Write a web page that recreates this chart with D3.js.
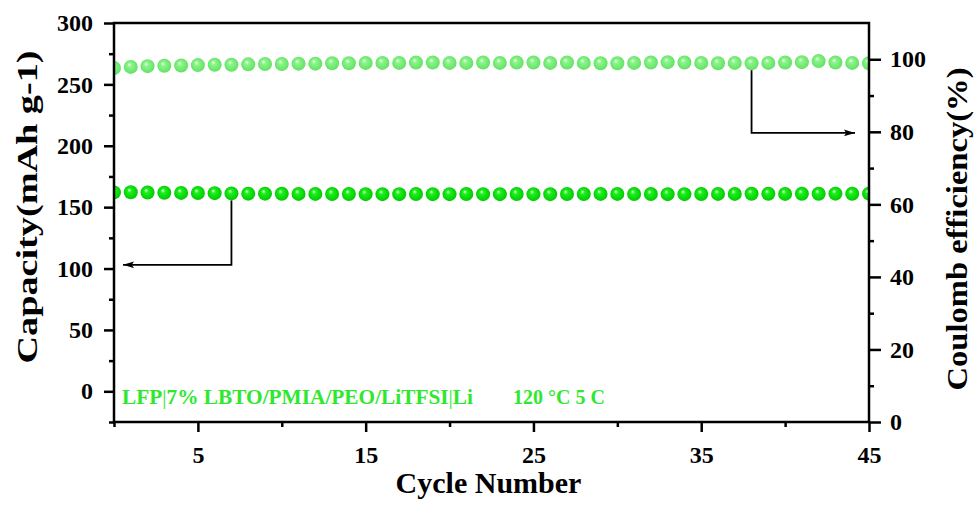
<!DOCTYPE html>
<html>
<head>
<meta charset="utf-8">
<script src="https://cdn.jsdelivr.net/npm/d3@7/dist/d3.min.js"></script>
<style>
  html, body { margin: 0; padding: 0; background: #fff; }
  svg { display: block; }
  text { font-family: "Liberation Serif", "Times New Roman", serif; font-weight: bold; }
</style>
</head>
<body>
<svg id="chart" width="974" height="505"></svg>
<script>
// Cycle numbers
const cycles = d3.range(0, 46);

// Discharge capacity (mAh g-1) per cycle
const capacity = [
  162.0, 162.1, 161.9, 161.7, 161.6, 161.5, 161.4, 161.2, 161.0, 161.0,
  160.9, 160.8, 160.8, 160.7, 160.7, 160.6, 160.6, 160.6, 160.7, 160.6,
  160.6, 160.7, 160.6, 160.6, 160.7, 160.6, 160.6, 160.7, 160.7, 160.8,
  160.8, 160.7, 160.7, 160.6, 160.6, 160.7, 160.8, 160.8, 160.9, 160.9,
  160.8, 160.9, 160.9, 161.0, 160.9, 161.0
];

// Coulombic efficiency (%) per cycle
const efficiency = [
  97.6, 97.9, 98.1, 98.2, 98.3, 98.4, 98.5, 98.5, 98.6, 98.7,
  98.7, 98.8, 98.8, 98.9, 98.9, 99.0, 99.0, 99.0, 99.1, 99.1,
  99.0, 99.0, 99.1, 99.0, 99.1, 99.1, 99.0, 99.1, 99.0, 98.9,
  98.9, 99.0, 99.1, 99.2, 99.1, 99.0, 98.9, 99.0, 98.9, 99.0,
  99.1, 99.2, 99.5, 99.1, 99.0, 98.9
];

// Axis ticks
const xMajor = [5, 15, 25, 35, 45];
const xMinor = [0, 10, 20, 30, 40];
const yLeftMajor = [0, 50, 100, 150, 200, 250, 300];
const yLeftMinor = [-25, 25, 75, 125, 175, 225, 275];
const yRightMajor = [0, 20, 40, 60, 80, 100];
const yRightMinor = [10, 30, 50, 70, 90];

const capArrowCycle = 7, capArrowTarget = 103;
const ceArrowCycle = 38, ceArrowTarget = 79.7;

const svg = d3.select("#chart");
const L = 114, R = 869, T = 23, B = 422;

const x = d3.scaleLinear().domain([0, 45]).range([L, R]);
const yL = d3.scaleLinear().domain([-25, 300]).range([B, T]);
const yR = d3.scaleLinear().domain([0, 110]).range([B, T]);

const defs = svg.append("defs");
defs.append("clipPath").attr("id", "plotClip")
  .append("rect").attr("x", L).attr("y", T).attr("width", R - L).attr("height", B - T);

function sphere(id, hi, mid, edge) {
  const g = defs.append("radialGradient").attr("id", id)
    .attr("cx", "50%").attr("cy", "50%").attr("r", "55%")
    .attr("fx", "38%").attr("fy", "32%");
  g.append("stop").attr("offset", "0%").attr("stop-color", hi);
  g.append("stop").attr("offset", "28%").attr("stop-color", mid);
  g.append("stop").attr("offset", "100%").attr("stop-color", edge);
}
sphere("capBall", "#eaffea", "#1cf01c", "#00c400");
sphere("ceBall", "#f2fff2", "#8cf48c", "#5ee05e");

defs.append("marker").attr("id", "arrowHead")
  .attr("viewBox", "0 0 10 6").attr("refX", 10).attr("refY", 3)
  .attr("markerWidth", 11).attr("markerHeight", 7)
  .attr("markerUnits", "userSpaceOnUse").attr("orient", "auto")
  .append("path").attr("d", "M0,0 L10,3 L0,6 L2,3 Z").attr("fill", "#000");

// Data markers
const plot = svg.append("g").attr("clip-path", "url(#plotClip)");
plot.selectAll("circle.ce").data(cycles).join("circle")
  .attr("class", "ce")
  .attr("cx", d => x(d)).attr("cy", (d, i) => yR(efficiency[i]))
  .attr("r", 7).attr("fill", "url(#ceBall)");
plot.selectAll("circle.cap").data(cycles).join("circle")
  .attr("class", "cap")
  .attr("cx", d => x(d)).attr("cy", (d, i) => yL(capacity[i]))
  .attr("r", 7).attr("fill", "url(#capBall)");

// Pointer arrows
svg.append("path")
  .attr("d", `M${x(capArrowCycle)},${yL(capacity[capArrowCycle]) + 7} V${yL(capArrowTarget)} H${L + 9}`)
  .attr("fill", "none").attr("stroke", "#000").attr("stroke-width", 1.8)
  .attr("marker-end", "url(#arrowHead)");
svg.append("path")
  .attr("d", `M${x(ceArrowCycle)},${yR(efficiency[ceArrowCycle]) + 7} V${yR(ceArrowTarget)} H${R - 14}`)
  .attr("fill", "none").attr("stroke", "#000").attr("stroke-width", 1.8)
  .attr("marker-end", "url(#arrowHead)");

// Axes
function styleAxis(g) {
  g.select(".domain").remove();
  g.selectAll(".tick line").attr("stroke", "#000").attr("stroke-width", 2.5);
  g.selectAll(".tick text").attr("fill", "#000").attr("font-size", 24)
    .attr("font-family", "Liberation Serif, serif").attr("font-weight", "bold");
}

svg.append("g").attr("transform", `translate(0,${B})`)
  .call(d3.axisBottom(x).tickValues(xMajor).tickSize(10).tickPadding(14).tickFormat(d3.format("d")))
  .call(styleAxis);
svg.append("g").attr("transform", `translate(0,${B})`)
  .call(d3.axisBottom(x).tickValues(xMinor).tickSize(5).tickFormat(""))
  .call(styleAxis);

svg.append("g").attr("transform", `translate(${L},0)`)
  .call(d3.axisLeft(yL).tickValues(yLeftMajor).tickSize(10).tickPadding(11).tickFormat(d3.format("d")))
  .call(styleAxis);
svg.append("g").attr("transform", `translate(${L},0)`)
  .call(d3.axisLeft(yL).tickValues(yLeftMinor).tickSize(5).tickFormat(""))
  .call(styleAxis);

svg.append("g").attr("transform", `translate(${R},0)`)
  .call(d3.axisRight(yR).tickValues(yRightMajor).tickSize(12).tickPadding(9).tickFormat(d3.format("d")))
  .call(styleAxis);
svg.append("g").attr("transform", `translate(${R},0)`)
  .call(d3.axisRight(yR).tickValues(yRightMinor).tickSize(5).tickFormat(""))
  .call(styleAxis);

// Frame
svg.append("rect").attr("x", L).attr("y", T).attr("width", R - L).attr("height", B - T)
  .attr("fill", "none").attr("stroke", "#000").attr("stroke-width", 2.5);

// Axis titles
svg.append("text").attr("x", (L + R) / 2 - 3).attr("y", 493)
  .attr("text-anchor", "middle").attr("font-size", 30).attr("fill", "#000")
  .text("Cycle Number");

svg.append("text").attr("transform", "translate(37,207) rotate(-90)")
  .attr("text-anchor", "middle").attr("font-size", 29).attr("fill", "#000")
  .attr("textLength", 313).attr("lengthAdjust", "spacingAndGlyphs")
  .text("Capacity(mAh g-1)");

svg.append("text").attr("transform", "translate(967,229) rotate(-90)")
  .attr("text-anchor", "middle").attr("font-size", 29).attr("fill", "#000")
  .attr("textLength", 323).attr("lengthAdjust", "spacingAndGlyphs")
  .text("Coulomb efficiency(%)");

// Cell annotation
const note = svg.append("text").attr("x", 122).attr("y", 404)
  .attr("font-size", 20).attr("fill", "#2ee82e")
  .attr("textLength", 351).attr("lengthAdjust", "spacingAndGlyphs");
note.append("tspan").text("LFP");
note.append("tspan").attr("font-weight", "normal").text("|");
note.append("tspan").text("7% LBTO/PMIA/PEO/LiTFSI");
note.append("tspan").attr("font-weight", "normal").text("|");
note.append("tspan").text("Li");

svg.append("text").attr("x", 513).attr("y", 404)
  .attr("font-size", 20).attr("fill", "#2ee82e")
  .text("120 °C 5 C");
</script>
</body>
</html>
